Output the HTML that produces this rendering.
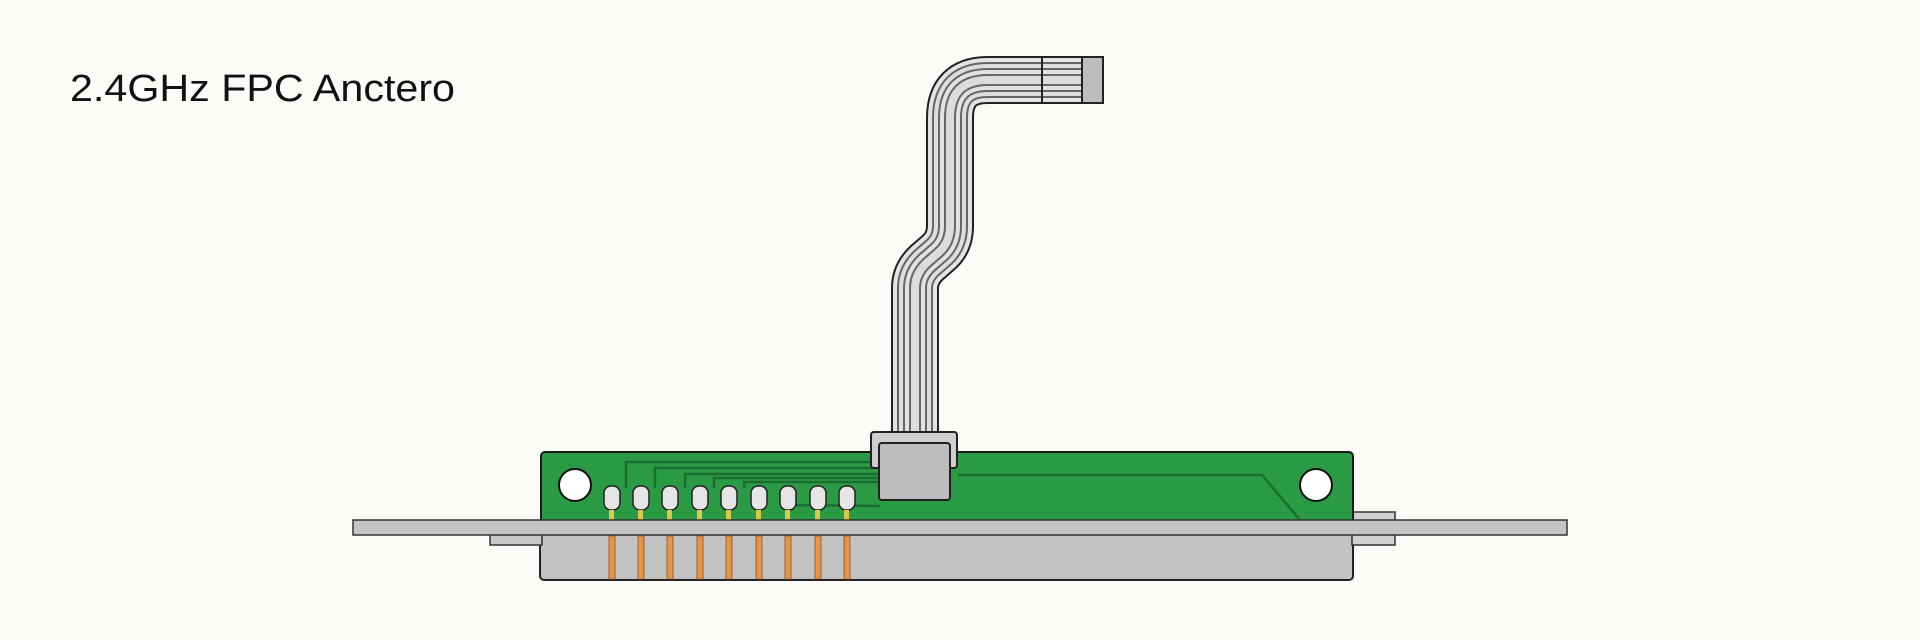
<!DOCTYPE html>
<html><head><meta charset="utf-8"><style>
html,body{margin:0;padding:0;background:#fbfbf8;}
svg{display:block}
</style></head><body>
<svg width="1920" height="640" viewBox="0 0 1920 640" xmlns="http://www.w3.org/2000/svg">
<rect width="1920" height="640" fill="#fbfbf8"/>
<text x="70" y="101" font-family="Liberation Sans, sans-serif" font-size="38" textLength="385" lengthAdjust="spacingAndGlyphs" fill="#111">2.4GHz FPC Anctero</text>

<!-- cable -->
<g fill="none" stroke-linejoin="round">
<path d="M915,445 L915,288 Q915,272 930,260 L938,253 Q950,243 950,226 L950,118 Q950,80 988,80 L1084,80" stroke="#222" stroke-width="48"/>
<path d="M915,445 L915,288 Q915,272 930,260 L938,253 Q950,243 950,226 L950,118 Q950,80 988,80 L1084,80" stroke="#e4e4e4" stroke-width="44"/>
<path d="M915,445 L915,288 Q915,272 930,260 L938,253 Q950,243 950,226 L950,118 Q950,80 988,80 L1084,80" stroke="#666" stroke-width="36"/>
<path d="M915,445 L915,288 Q915,272 930,260 L938,253 Q950,243 950,226 L950,118 Q950,80 988,80 L1084,80" stroke="#dedede" stroke-width="32"/>
<path d="M915,445 L915,288 Q915,272 930,260 L938,253 Q950,243 950,226 L950,118 Q950,80 988,80 L1084,80" stroke="#666" stroke-width="24"/>
<path d="M915,445 L915,288 Q915,272 930,260 L938,253 Q950,243 950,226 L950,118 Q950,80 988,80 L1084,80" stroke="#e2e2e2" stroke-width="20"/>
<path d="M915,445 L915,288 Q915,272 930,260 L938,253 Q950,243 950,226 L950,118 Q950,80 988,80 L1084,80" stroke="#666" stroke-width="12"/>
<path d="M915,445 L915,288 Q915,272 930,260 L938,253 Q950,243 950,226 L950,118 Q950,80 988,80 L1084,80" stroke="#dcdcdc" stroke-width="8"/>
</g>
<line x1="1042" y1="57" x2="1042" y2="103" stroke="#222" stroke-width="2"/>
<rect x="1082" y="57" width="21" height="46" fill="#bdbdbd" stroke="#222" stroke-width="2"/>

<!-- housing below -->
<rect x="540" y="533" width="813" height="47" rx="4" fill="#c2c2c2" stroke="#222" stroke-width="2"/>
<rect x="490" y="533" width="52" height="12" fill="#c8c8c8" stroke="#333" stroke-width="1.5"/>
<rect x="1352" y="512" width="43" height="33" fill="#d0d0d0" stroke="#333" stroke-width="1.5"/>

<!-- green board -->
<rect x="541" y="452" width="812" height="80" rx="4" fill="#2a9a45" stroke="#1a1a1a" stroke-width="2"/>
<circle cx="575" cy="485" r="16" fill="#fff" stroke="#111" stroke-width="2"/>
<circle cx="1316" cy="485" r="16" fill="#fff" stroke="#111" stroke-width="2"/>
<g fill="none" stroke="#1c6e30" stroke-width="2.5">
<path d="M626,488 L626,462 L878,462"/>
<path d="M655,488 L655,468 L878,468"/>
<path d="M685,488 L685,474 L878,474"/>
<path d="M714,488 L714,478 L878,478"/>
<path d="M744,488 L744,482 L878,482"/>
<path d="M958,475 L1262,475 L1300,520"/>
<path d="M780,505 L880,506"/>
</g>
<g fill="#e6e6e6" stroke="#222" stroke-width="1.5">
<rect x="604" y="486" width="16" height="24" rx="7"/>
<rect x="633" y="486" width="16" height="24" rx="7"/>
<rect x="662" y="486" width="16" height="24" rx="7"/>
<rect x="692" y="486" width="16" height="24" rx="7"/>
<rect x="721" y="486" width="16" height="24" rx="7"/>
<rect x="751" y="486" width="16" height="24" rx="7"/>
<rect x="780" y="486" width="16" height="24" rx="7"/>
<rect x="810" y="486" width="16" height="24" rx="7"/>
<rect x="839" y="486" width="16" height="24" rx="7"/>
</g>
<g fill="#d9c84a">
<rect x="609" y="510" width="5" height="11"/><rect x="638" y="510" width="5" height="11"/><rect x="667" y="510" width="5" height="11"/>
<rect x="697" y="510" width="5" height="11"/><rect x="726" y="510" width="5" height="11"/><rect x="756" y="510" width="5" height="11"/>
<rect x="785" y="510" width="5" height="11"/><rect x="815" y="510" width="5" height="11"/><rect x="844" y="510" width="5" height="11"/>
</g>

<rect x="353" y="520" width="1214" height="15" fill="#c4c4c4" stroke="#333" stroke-width="1.5"/>

<g fill="#e8954a" stroke="#8a5020" stroke-width="0.8">
<rect x="609" y="536" width="6" height="43"/><rect x="638" y="536" width="6" height="43"/><rect x="667" y="536" width="6" height="43"/>
<rect x="697" y="536" width="6" height="43"/><rect x="726" y="536" width="6" height="43"/><rect x="756" y="536" width="6" height="43"/>
<rect x="785" y="536" width="6" height="43"/><rect x="815" y="536" width="6" height="43"/><rect x="844" y="536" width="6" height="43"/>
</g>

<rect x="871" y="432" width="86" height="36" rx="3" fill="#cfcfcf" stroke="#222" stroke-width="2"/>
<rect x="879" y="443" width="71" height="57" rx="3" fill="#bdbdbd" stroke="#222" stroke-width="2"/>
</svg>
</body></html>
